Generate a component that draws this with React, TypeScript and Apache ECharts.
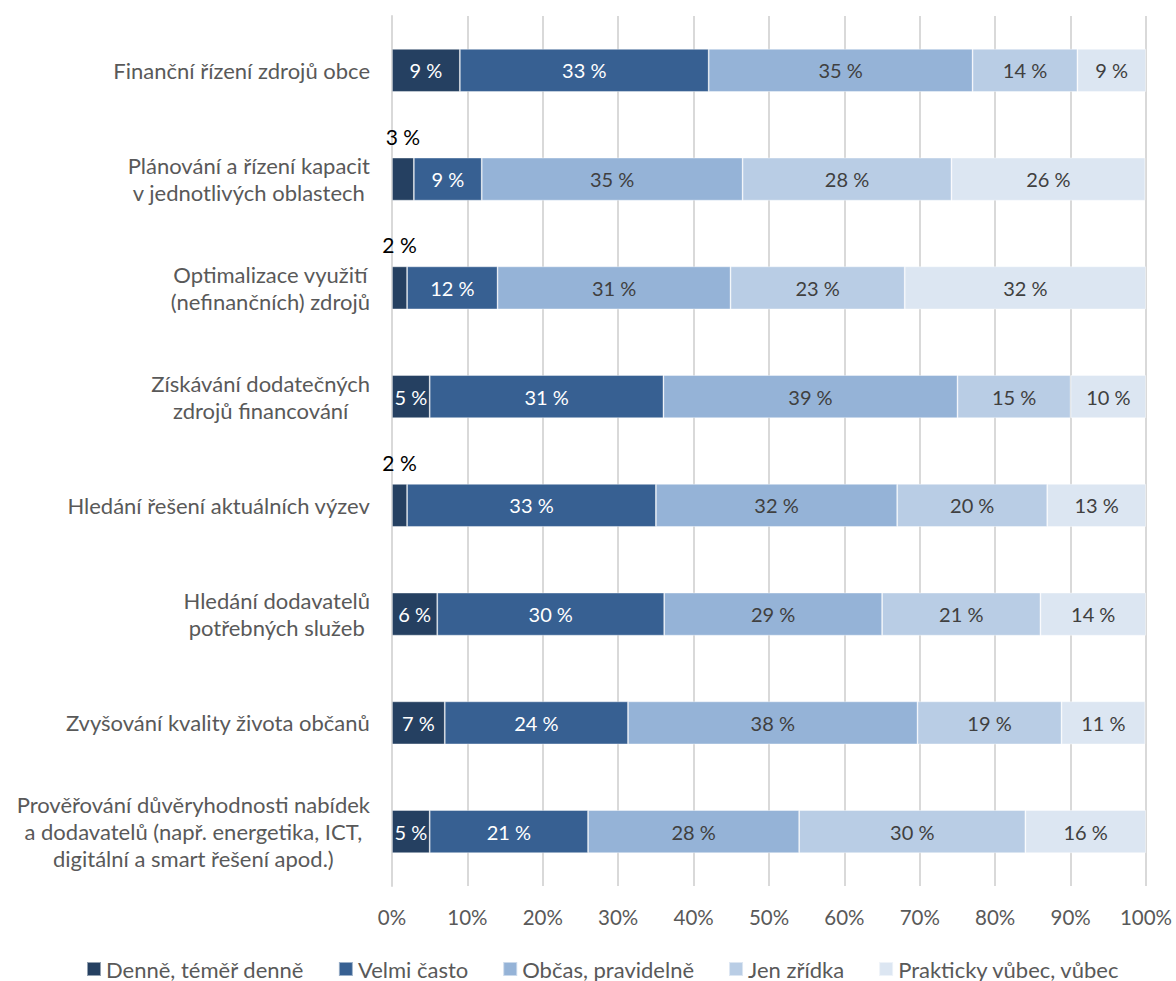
import React, { useEffect, useRef } from "react";
import * as echarts from "echarts";

const categories = [
  "Finanční řízení zdrojů obce",
  "Plánování a řízení kapacit\nv jednotlivých oblastech",
  "Optimalizace využití\n(nefinančních) zdrojů",
  "Získávání dodatečných\nzdrojů financování",
  "Hledání řešení aktuálních výzev",
  "Hledání dodavatelů\npotřebných služeb",
  "Zvyšování kvality života občanů",
  "Prověřování důvěryhodnosti nabídek\na dodavatelů (např. energetika, ICT,\ndigitální a smart řešení apod.)",
];

const seriesNames = [
  "Denně, téměř denně",
  "Velmi často",
  "Občas, pravidelně",
  "Jen zřídka",
  "Prakticky vůbec, vůbec",
];

const denne = [9, 2.9, 2, 5, 2, 6, 7, 5];
const velmiCasto = [33, 9, 12, 31, 33, 30.1, 24.3, 21];
const obcas = [35, 34.6, 30.9, 39, 32, 28.9, 38.4, 28];
const jenZridka = [13.9, 27.7, 23.1, 15, 19.9, 21, 19.1, 30];
const prakticky = [9.1, 25.7, 32, 10, 13.1, 14, 11.1, 16];

const seriesData = [denne, velmiCasto, obcas, jenZridka, prakticky];
const colors = ["#254061", "#376092", "#95B3D7", "#B9CDE5", "#DCE6F2"];
const labelColors = ["#ffffff", "#ffffff", "#404040", "#404040", "#404040"];

const FONT = "Lato, 'Open Sans', sans-serif";

export default function App() {
  const ref = useRef<HTMLDivElement>(null);
  useEffect(() => {
    if (!ref.current) return;
    const chart = echarts.init(ref.current, null, { renderer: "svg" });
    const series = seriesData.map((arr, si) => ({
      name: seriesNames[si],
      type: "bar",
      stack: "total",
      barWidth: 43,
      itemStyle: { color: colors[si], borderColor: "rgba(255,255,255,0.5)", borderWidth: 0.8 },
      label: {
        show: true,
        position: "inside",
        color: labelColors[si],
        fontSize: 20,
        fontFamily: FONT,
        formatter: (p: any) => `${Math.round(p.value)} %`,
      },
      data: arr.map((v) =>
        v < 4
          ? {
              value: v,
              label: { position: "top", color: "#000000", distance: 11, fontSize: 21 },
            }
          : { value: v }
      ),
    }));
    chart.setOption({
      animation: false,
      textStyle: { fontFamily: FONT },
      grid: { left: 392, right: 30, top: 16, bottom: 95, containLabel: false },
      legend: {
        top: 953,
        left: 81,
        icon: "rect",
        itemWidth: 14,
        itemHeight: 14,
        itemGap: 34,
        textStyle: { fontSize: 22, color: "#595959", fontFamily: FONT },
        data: seriesNames,
      },
      xAxis: {
        type: "value",
        min: 0,
        max: 100,
        interval: 10,
        axisLabel: { formatter: "{value}%", fontSize: 20.5, color: "#595959", margin: 20, fontFamily: FONT },
        axisLine: { show: false },
        axisTick: { show: false },
        splitLine: { show: true, lineStyle: { color: "#D9D9D9", width: 2 } },
      },
      yAxis: {
        type: "category",
        inverse: true,
        data: categories,
        axisLine: { show: true, lineStyle: { color: "#D9D9D9", width: 2 } },
        axisTick: { show: false },
        axisLabel: {
          margin: 22,
          align: "right",
          lineHeight: 27,
          formatter: (v: string) => v.split("\n").map((l) => `{c|${l}}`).join("\n"),
          rich: {
            c: { align: "center", fontSize: 22, color: "#595959", lineHeight: 27, fontFamily: FONT },
          },
        },
      },
      series,
    });
    return () => chart.dispose();
  }, []);
  return (
    <div
      ref={ref}
      style={{ position: "absolute", left: 0, top: 0, width: 1176, height: 981 }}
    />
  );
}
